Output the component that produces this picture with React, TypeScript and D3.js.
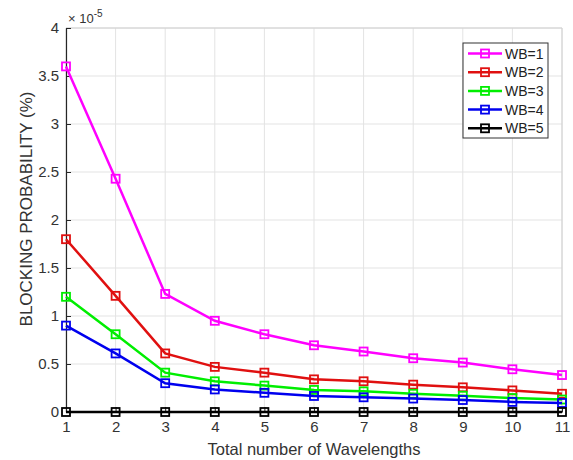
import * as d3 from "d3";
import { useEffect, useRef } from "react";

// values are in units of 1e-5 (see the exponent label above the y axis)
const wavelengths = [1, 2, 3, 4, 5, 6, 7, 8, 9, 10, 11];
const wb1 = [3.6, 2.43, 1.23, 0.95, 0.81, 0.695, 0.63, 0.56, 0.515, 0.445, 0.385];
const wb2 = [1.8, 1.21, 0.61, 0.47, 0.41, 0.34, 0.32, 0.285, 0.257, 0.225, 0.19];
const wb3 = [1.2, 0.81, 0.41, 0.32, 0.275, 0.23, 0.215, 0.19, 0.17, 0.145, 0.13];
const wb4 = [0.9, 0.61, 0.3, 0.235, 0.2, 0.167, 0.153, 0.14, 0.125, 0.105, 0.094];
const wb5 = [0, 0, 0, 0, 0, 0, 0, 0, 0, 0, 0];
const seriesNames = ["WB=1", "WB=2", "WB=3", "WB=4", "WB=5"];
const seriesColors = ["#ff00ff", "#e01010", "#00ee00", "#0000ee", "#000000"];
const yTicks = [0, 0.5, 1, 1.5, 2, 2.5, 3, 3.5, 4];

const FONT = "'Liberation Sans', Arial, Helvetica, sans-serif";

const App: React.FC = () => {
  const svgRef = useRef<SVGSVGElement | null>(null);

  useEffect(() => {
    const svg = d3.select(svgRef.current);
    svg.selectAll("*").remove();

    const margin = { top: 28, right: 11, bottom: 48, left: 66 };
    const W = 573;
    const H = 460;
    const width = W - margin.left - margin.right;
    const height = H - margin.top - margin.bottom;

    svg.attr("width", W).attr("height", H);
    svg.append("rect").attr("width", W).attr("height", H).attr("fill", "#fff");

    const g = svg.append("g").attr("transform", `translate(${margin.left},${margin.top})`);

    const x = d3.scaleLinear().domain([1, 11]).range([0, width]);
    const y = d3.scaleLinear().domain([0, 4]).range([height, 0]);

    // grid
    g.append("g")
      .selectAll("line")
      .data(wavelengths)
      .join("line")
      .attr("x1", (d) => x(d))
      .attr("x2", (d) => x(d))
      .attr("y1", 0)
      .attr("y2", height)
      .attr("stroke", "#e3e3e3")
      .attr("stroke-width", 1);
    g.append("g")
      .selectAll("line")
      .data(yTicks)
      .join("line")
      .attr("x1", 0)
      .attr("x2", width)
      .attr("y1", (d) => y(d))
      .attr("y2", (d) => y(d))
      .attr("stroke", "#e3e3e3")
      .attr("stroke-width", 1);

    // light frame on top/right
    g.append("path")
      .attr("d", `M0,0H${width}V${height}`)
      .attr("fill", "none")
      .attr("stroke", "#d0d0d0");

    // axes
    const xAxis = g
      .append("g")
      .attr("transform", `translate(0,${height})`)
      .call(d3.axisBottom(x).tickValues(wavelengths).tickFormat(d3.format("d")).tickSizeInner(-5).tickSizeOuter(0).tickPadding(9));
    const yAxis = g
      .append("g")
      .call(d3.axisLeft(y).tickValues(yTicks).tickFormat((d) => String(d)).tickSizeInner(-5).tickSizeOuter(0).tickPadding(7));
    [xAxis, yAxis].forEach((ax) => {
      ax.select(".domain").attr("stroke", "#262626").attr("stroke-width", 1.2);
      ax.selectAll(".tick line").attr("stroke", "#262626");
      ax.selectAll("text").attr("fill", "#333").style("font-family", FONT).style("font-size", "15px");
    });

    // exponent
    const expo = g.append("text").attr("x", 2).attr("y", -5).attr("fill", "#333").style("font-family", FONT).style("font-size", "13px");
    expo.append("tspan").text("\u00d7 10");
    expo.append("tspan").attr("dy", -6).style("font-size", "10px").text("-5");

    // series
    const all = [wb1, wb2, wb3, wb4, wb5];
    const line = d3
      .line<number>()
      .x((_, i) => x(wavelengths[i]))
      .y((d) => y(d));
    const ms = 8;
    all.forEach((vals, si) => {
      const color = seriesColors[si];
      g.append("path")
        .datum(vals)
        .attr("fill", "none")
        .attr("stroke", color)
        .attr("stroke-width", 2.5)
        .attr("d", line);
      g.append("g")
        .selectAll("rect")
        .data(vals)
        .join("rect")
        .attr("x", (_, i) => x(wavelengths[i]) - ms / 2)
        .attr("y", (d) => y(d) - ms / 2)
        .attr("width", ms)
        .attr("height", ms)
        .attr("fill", "none")
        .attr("stroke", color)
        .attr("stroke-width", 1.8);
    });

    // axis titles
    svg.append("text")
      .attr("x", 314)
      .attr("y", 455)
      .attr("text-anchor", "middle")
      .attr("fill", "#333")
      .style("font-family", FONT)
      .style("font-size", "16.5px")
      .text("Total number of Wavelengths");
    svg.append("text")
      .attr("transform", `translate(32,209) rotate(-90)`)
      .attr("text-anchor", "middle")
      .attr("fill", "#333")
      .style("font-family", FONT)
      .style("font-size", "17px")
      .text("BLOCKING PROBABILITY (%)");

    // legend
    const lg = svg.append("g").attr("transform", "translate(463,43)");
    lg.append("rect").attr("width", 85).attr("height", 95).attr("fill", "#fff").attr("stroke", "#333").attr("stroke-width", 1);
    seriesNames.forEach((name, i) => {
      const ly = 10.5 + i * 18.7;
      const color = seriesColors[i];
      lg.append("line").attr("x1", 5).attr("x2", 39).attr("y1", ly).attr("y2", ly).attr("stroke", color).attr("stroke-width", 2.5);
      lg.append("rect").attr("x", 22 - ms / 2).attr("y", ly - ms / 2).attr("width", ms).attr("height", ms).attr("fill", "none").attr("stroke", color).attr("stroke-width", 1.8);
      lg.append("text").attr("x", 42).attr("y", ly + 5).attr("fill", "#222").style("font-family", FONT).style("font-size", "14px").text(name);
    });
  }, []);

  return <svg ref={svgRef} style={{ position: "absolute", left: 0, top: 0 }}></svg>;
};

export default App;
